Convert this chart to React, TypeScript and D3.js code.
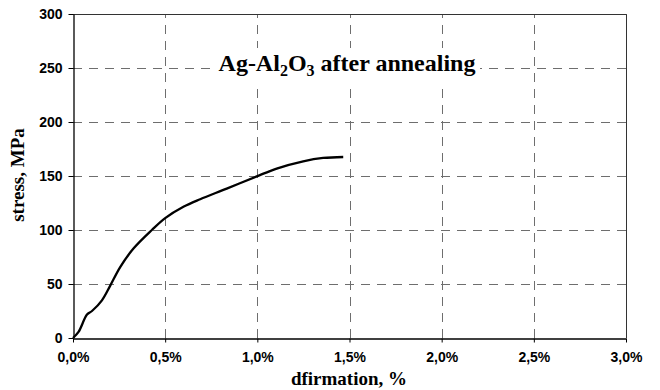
import React, { useRef, useEffect } from "react";
import * as d3 from "d3";

// strain (%) and stress (MPa)
const strain = [0, 0.03, 0.076, 0.103, 0.157, 0.202, 0.256, 0.328, 0.428, 0.5, 0.599, 0.69, 0.834, 0.997, 1.105, 1.249, 1.357, 1.466];
const stress = [0, 5.6, 21.7, 25, 34.9, 48.5, 65.7, 82.8, 100, 111, 121.5, 128.5, 138.3, 149.7, 156.9, 163.6, 166.7, 167.6];

const xTicks = [0, 0.5, 1, 1.5, 2, 2.5, 3];
const yTicks = [0, 50, 100, 150, 200, 250, 300];

const W = 660;
const H = 390;

export default function App() {
  const svgRef = useRef<SVGSVGElement>(null);

  useEffect(() => {
    const svg = d3.select(svgRef.current);
    svg.selectAll("*").remove();

    const margin = { top: 14, right: 34, bottom: 52, left: 73 };
    const x = d3.scaleLinear().domain([0, 3]).range([margin.left, W - margin.right]);
    const y = d3.scaleLinear().domain([0, 300]).range([H - margin.bottom, margin.top]);

    svg.append("rect").attr("width", W).attr("height", H).attr("fill", "#fff");

    // grid
    const grid = svg.append("g").attr("stroke", "#6e6e6e").attr("stroke-width", 1).attr("stroke-dasharray", "9,7");
    grid
      .selectAll("line.h")
      .data(yTicks.filter((d) => d > 0))
      .join("line")
      .attr("x1", x(0))
      .attr("x2", x(3))
      .attr("y1", (d) => Math.round(y(d)) + 0.5)
      .attr("y2", (d) => Math.round(y(d)) + 0.5);
    grid
      .selectAll("line.v")
      .data(xTicks.filter((d) => d > 0))
      .join("line")
      .attr("y1", y(0))
      .attr("y2", y(300))
      .attr("x1", (d) => Math.round(x(d)) + 0.5)
      .attr("x2", (d) => Math.round(x(d)) + 0.5);

    // frame top / right
    svg
      .append("path")
      .attr("d", `M${x(0)},${Math.round(y(300)) + 0.5}H${Math.round(x(3)) + 0.5}V${y(0)}`)
      .attr("fill", "none")
      .attr("stroke", "#333")
      .attr("stroke-width", 1);

    // title with white box
    svg.append("rect").attr("x", 214).attr("y", 48).attr("width", 266).attr("height", 38).attr("fill", "#fff");
    const title = svg
      .append("text")
      .attr("x", 347)
      .attr("y", 71)
      .attr("text-anchor", "middle")
      .attr("font-family", "'Liberation Serif', 'Times New Roman', serif")
      .attr("font-weight", "bold")
      .attr("font-size", 24);
    title.append("tspan").text("Ag-Al");
    title.append("tspan").attr("font-size", 16).attr("dy", 5).text("2");
    title.append("tspan").attr("dy", -5).text("O");
    title.append("tspan").attr("font-size", 16).attr("dy", 5).text("3");
    title.append("tspan").attr("dy", -5).text(" after annealing");

    // axes
    const fmt = (d: number) => d.toFixed(1).replace(".", ",") + "%";
    const xAxis = svg
      .append("g")
      .attr("transform", `translate(0,${Math.round(y(0)) + 0.5})`)
      .call(d3.axisBottom(x).tickValues(xTicks).tickFormat(fmt as any).tickSize(4).tickSizeOuter(0).tickPadding(10));
    const yAxis = svg
      .append("g")
      .attr("transform", `translate(${Math.round(x(0)) + 0.5},0)`)
      .call(d3.axisLeft(y).tickValues(yTicks).tickSize(5).tickSizeOuter(0).tickPadding(6));
    [xAxis, yAxis].forEach((g) => {
      g.select(".domain").attr("stroke", "#000").attr("stroke-width", 1.3);
      g.selectAll(".tick line").attr("stroke", "#000");
      g.selectAll("text")
        .attr("fill", "#000")
        .attr("font-family", "'Liberation Sans', Arial, sans-serif")
        .attr("font-weight", "bold")
        .attr("font-size", 14);
    });

    // curve
    const pts = strain.map((s, i) => [s, stress[i]] as [number, number]);
    const line = d3
      .line<[number, number]>()
      .curve(d3.curveCatmullRom.alpha(0.5))
      .x((d) => x(d[0]))
      .y((d) => y(d[1]));
    svg.append("path").datum(pts).attr("fill", "none").attr("stroke", "#000").attr("stroke-width", 2.3).attr("d", line);

    // axis titles
    svg
      .append("text")
      .attr("x", 349)
      .attr("y", 385)
      .attr("text-anchor", "middle")
      .attr("font-family", "'Liberation Serif', 'Times New Roman', serif")
      .attr("font-weight", "bold")
      .attr("font-size", 19)
      .text("dfirmation, %");
    svg
      .append("text")
      .attr("transform", "translate(24,175) rotate(-90)")
      .attr("text-anchor", "middle")
      .attr("font-family", "'Liberation Serif', 'Times New Roman', serif")
      .attr("font-weight", "bold")
      .attr("font-size", 19)
      .text("stress, MPa");
  }, []);

  return <svg ref={svgRef} width={W} height={H} style={{ position: "absolute", left: 0, top: 0 }} />;
}
